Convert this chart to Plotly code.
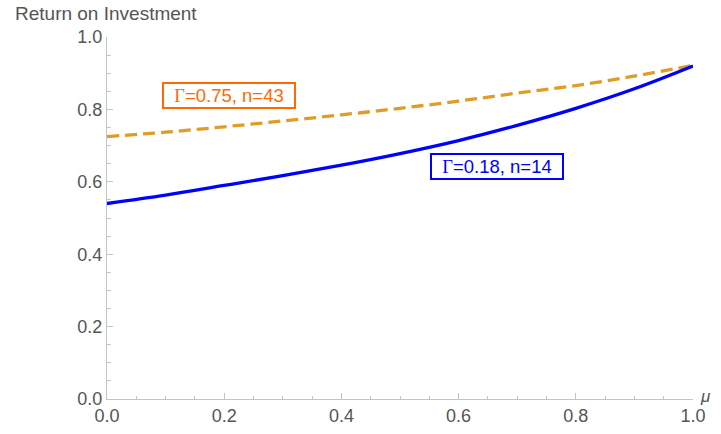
import plotly.graph_objects as go

mu = [0.0, 0.1, 0.2, 0.3, 0.4, 0.5, 0.6, 0.7, 0.8, 0.9, 1.0]
roi_blue = [0.540, 0.563, 0.590, 0.617, 0.646, 0.678, 0.714, 0.756, 0.803, 0.857, 0.920]
roi_orange = [0.725, 0.737, 0.752, 0.768, 0.785, 0.803, 0.823, 0.845, 0.866, 0.892, 0.922]

label_blue = "=0.18, n=14"
label_orange = "=0.75, n=43"

x_ticks = [0.0, 0.2, 0.4, 0.6, 0.8, 1.0]
y_ticks = [0.0, 0.2, 0.4, 0.6, 0.8, 1.0]

BLUE = "#0000FF"
ORANGE_LINE = "#E09C24"
ORANGE_TXT = "#FF6A00"
FONT = "Liberation Sans, Arial, sans-serif"
SERIF = "Liberation Serif, Times New Roman, serif"
GRAY = "#555555"

W, H = 721, 434
L, R, T, B = 107, 28, 37, 35
PW, PH = W - L - R, H - T - B

fig = go.Figure()
fig.add_trace(go.Scatter(x=mu, y=roi_orange, mode="lines",
                         line=dict(color=ORANGE_LINE, width=3.3, dash="12px,6px", shape="spline"),
                         showlegend=False, hoverinfo="skip"))
fig.add_trace(go.Scatter(x=mu, y=roi_blue, mode="lines",
                         line=dict(color=BLUE, width=3.3, shape="spline"),
                         showlegend=False, hoverinfo="skip"))

axis_common = dict(
    showgrid=False, zeroline=False, showline=True, linecolor="#C4C4C4", linewidth=1,
    ticks="inside", ticklen=6, tickcolor="#C4C4C4", tickwidth=1,
    tickfont=dict(family=FONT, size=18, color=GRAY),
    tickformat=".1f",
    minor=dict(ticks="inside", ticklen=3.5, tickcolor="#C4C4C4", dtick=0.05, showgrid=False),
)
fig.update_xaxes(range=[0, 1], tickvals=x_ticks, **axis_common)
fig.update_yaxes(range=[0, 1], tickvals=y_ticks, **axis_common)

fig.add_annotation(x=0.208, y=0.838, xref="x", yref="y", showarrow=False,
                   text=f'<span style="font-family:{SERIF}">Γ</span>{label_orange}',
                   font=dict(family=FONT, size=18.5, color=ORANGE_TXT),
                   width=128, height=21, align="center",
                   bordercolor=ORANGE_TXT, borderwidth=2, borderpad=1, bgcolor="white")
fig.add_annotation(x=0.666, y=0.642, xref="x", yref="y", showarrow=False,
                   text=f'<span style="font-family:{SERIF}">Γ</span>{label_blue}',
                   font=dict(family=FONT, size=18.5, color=BLUE),
                   width=128, height=21, align="center",
                   bordercolor=BLUE, borderwidth=2, borderpad=1, bgcolor="white")

fig.add_annotation(x=(13 - L) / PW, y=1 + (T - 14) / PH, xref="paper", yref="paper", showarrow=False,
                   xanchor="left", yanchor="middle", text="Return on Investment",
                   font=dict(family=FONT, size=19, color=GRAY))
fig.add_annotation(x=1 + (705 - (W - R)) / PW, y=(H - B - 396) / PH, xref="paper", yref="paper",
                   showarrow=False, xanchor="center", yanchor="middle", text="<i>μ</i>",
                   font=dict(family=FONT, size=17, color=GRAY))

fig.update_layout(
    width=W, height=H,
    margin=dict(l=L, r=R, t=T, b=B, autoexpand=False),
    plot_bgcolor="white", paper_bgcolor="white",
)

fig.write_html("out.html", config={"displayModeBar": False},
               post_script="document.body.style.margin='0';")
